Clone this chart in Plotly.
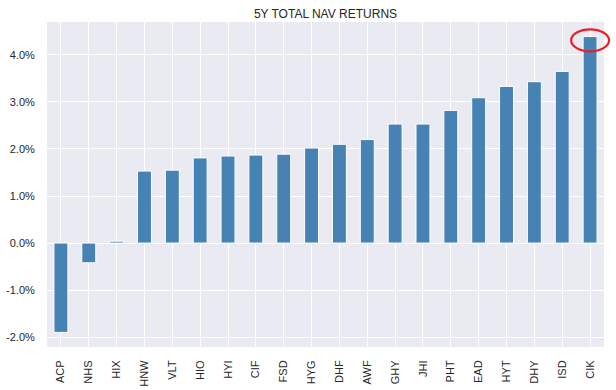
import plotly.graph_objects as go

tickers = ["ACP", "NHS", "HIX", "HNW", "VLT", "HIO", "HYI", "CIF", "FSD", "HYG",
           "DHF", "AWF", "GHY", "JHI", "PHT", "EAD", "HYT", "DHY", "ISD", "CIK"]
nav_returns = [-1.90, -0.42, 0.04, 1.53, 1.55, 1.81, 1.85, 1.87, 1.89, 2.02,
               2.10, 2.20, 2.53, 2.53, 2.82, 3.09, 3.33, 3.43, 3.65, 4.39]
y_ticks = [-2, -1, 0, 1, 2, 3, 4]
highlight = "CIK"

y_min, y_max = -2.21, 4.70

fig = go.Figure()
fig.add_trace(go.Bar(
    x=tickers, y=nav_returns, width=0.5,
    marker=dict(color="#4682B4", line=dict(color="white", width=1)),
))

font_family = "Liberation Sans, Arial, sans-serif"
fig.update_layout(
    width=616, height=390,
    margin=dict(l=47, r=12, t=22, b=43),
    paper_bgcolor="white", plot_bgcolor="#EAEAF2",
    showlegend=False,
    bargap=0.5,
    title=dict(text="5Y TOTAL NAV RETURNS", x=0.5, xanchor="center",
               xref="paper", y=1 - 14 / 390, yanchor="middle",
               font=dict(family=font_family, size=12, color="#262626")),
    font=dict(family=font_family, size=11, color="#262626"),
)
fig.update_xaxes(
    type="category", tickangle=-90, showgrid=True, gridcolor="white", gridwidth=1.2,
    ticks="outside", ticklen=8, tickcolor="rgba(0,0,0,0)",
    tickfont=dict(family=font_family, size=11, color="#262626"),
    range=[-0.5, len(tickers) - 0.5], showline=False, zeroline=False,
    automargin=False,
)
fig.update_yaxes(
    range=[y_min, y_max], tickvals=y_ticks,
    ticktext=[f"{v:.1f}%" for v in y_ticks],
    showgrid=True, gridcolor="white", gridwidth=1.2,
    zeroline=True, zerolinecolor="white", zerolinewidth=1.2,
    ticks="outside", ticklen=9, tickcolor="rgba(0,0,0,0)",
    tickfont=dict(family=font_family, size=11, color="#262626"),
    showline=False, automargin=False,
)

# Red ellipse highlighting the top of the highlighted bar (paper coords computed from data)
idx = tickers.index(highlight)
val = nav_returns[idx]
n = len(tickers)
cx = (idx + 0.5) / n
cy = (val - 0.08 - y_min) / (y_max - y_min)
half_w = 0.68 / n
half_h = 0.034
fig.add_shape(type="circle", xref="paper", yref="paper",
              x0=cx - half_w, x1=cx + half_w, y0=cy - half_h, y1=cy + half_h,
              line=dict(color="#EE1C25", width=2.2), layer="above")

fig.write_html("out.html", config={"displayModeBar": False},
               post_script="document.body.style.margin='0';document.body.style.overflow='hidden';")
